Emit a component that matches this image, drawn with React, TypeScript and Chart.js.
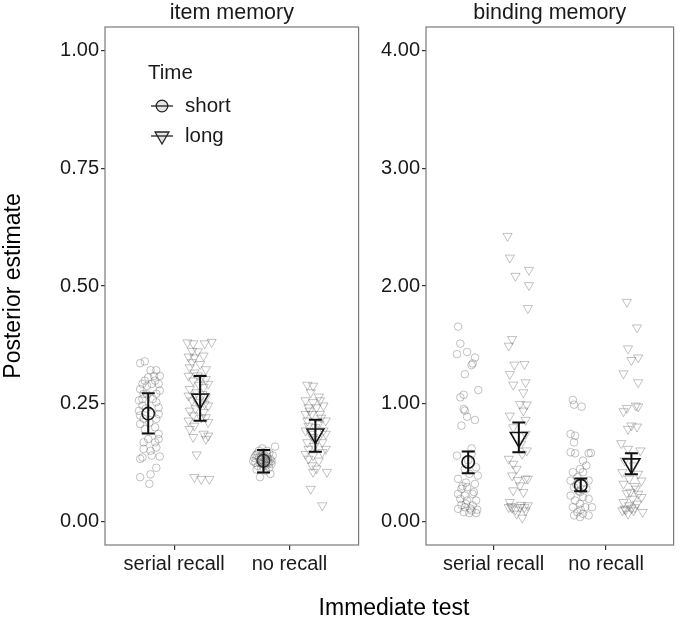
import React, { useEffect, useRef } from 'react';
import { Chart, registerables } from 'chart.js';
Chart.register(...registerables);

const FONT = '"Liberation Sans", Arial, Helvetica, sans-serif';

const categories = ['serial recall', 'no recall'];
const timeLevels = ['short', 'long'];
const itemTicks = [0, 0.25, 0.5, 0.75, 1];
const bindingTicks = [0, 1, 2, 3, 4];

// ---------- item memory: individual estimates ----------
const itemSerialShortY = [0.336,0.340,0.321,0.321,0.309,0.309,0.306,0.299,0.292,0.299,0.292,0.292,0.288,0.281,0.278,0.271,0.271,0.257,0.246,0.253,0.242,0.235,0.225,0.228,0.218,0.218,0.207,0.200,0.196,0.186,0.175,0.175,0.168,0.168,0.157,0.154,0.150,0.136,0.140,0.138,0.133,0.114,0.100,0.094,0.080,0.240,0.230,0.260,0.260,0.210,0.270];
const itemSerialShortDx = [-0.07,-0.03,0.02,0.07,0.10,0.05,0.00,-0.03,-0.05,0.06,0.09,0.03,-0.01,-0.07,0.10,0.07,-0.04,-0.08,-0.05,0.07,0.09,-0.08,-0.07,0.09,-0.04,0.07,-0.07,0.06,-0.03,0.09,0.09,0.00,0.06,-0.04,0.07,-0.04,0.02,-0.05,0.03,0.10,-0.07,0.07,0.02,-0.07,0.01,-0.02,0.03,-0.05,0.04,0.01,-0.01];

const itemSerialLongY = [0.380,0.378,0.378,0.381,0.362,0.361,0.350,0.348,0.352,0.338,0.334,0.327,0.323,0.316,0.309,0.306,0.302,0.299,0.292,0.285,0.281,0.274,0.267,0.264,0.257,0.253,0.246,0.235,0.232,0.225,0.221,0.214,0.211,0.203,0.196,0.186,0.182,0.175,0.179,0.142,0.094,0.090,0.090,0.27,0.29,0.25,0.24,0.22,0.31];
const itemSerialLongDx = [-0.11,-0.06,0.04,0.10,-0.07,-0.02,-0.10,-0.05,0.03,-0.07,0.00,-0.09,0.05,-0.05,-0.10,0.01,0.05,-0.06,0.07,0.03,-0.09,-0.03,-0.10,0.05,-0.07,-0.02,0.07,-0.09,0.03,-0.06,0.05,-0.10,0.07,-0.05,-0.09,0.03,0.07,0.05,-0.06,-0.03,-0.05,0.01,0.08,0.02,-0.01,0.04,-0.04,0.01,-0.02];

const itemNoShortY = [0.135,0.142,0.125,0.118,0.150,0.130,0.140,0.122,0.146,0.132,0.118,0.138,0.126,0.145,0.132,0.122,0.110,0.112,0.108,0.114,0.128,0.140,0.136,0.128,0.150,0.155,0.159,0.094,0.101,0.145,0.133,0.137,0.120,0.140,0.128,0.127,0.124,0.124,0.131,0.143];
const itemNoShortDx = [-0.08,-0.06,-0.07,-0.05,-0.04,-0.03,-0.02,-0.01,0.00,0.01,0.02,0.03,0.04,0.05,0.06,0.07,-0.06,-0.02,0.02,0.05,-0.09,0.08,-0.04,0.00,0.03,-0.01,0.10,-0.03,0.06,-0.05,0.04,-0.01,0.01,-0.07,0.07,0.02,-0.03,0.05,-0.02,0.03];

const itemNoLongY = [0.290,0.288,0.274,0.257,0.253,0.257,0.242,0.242,0.246,0.228,0.228,0.228,0.214,0.214,0.203,0.207,0.193,0.193,0.186,0.179,0.186,0.168,0.168,0.154,0.154,0.143,0.140,0.147,0.133,0.129,0.119,0.112,0.105,0.105,0.069,0.034,0.200,0.175,0.160,0.220,0.235,0.265];
const itemNoLongDx = [-0.07,-0.02,-0.04,-0.085,-0.02,0.04,-0.06,0.01,0.07,-0.085,-0.03,0.04,-0.07,0.09,-0.06,0.03,-0.085,0.07,-0.04,-0.02,0.09,-0.07,0.06,-0.06,0.09,-0.085,-0.02,0.06,-0.06,0.03,-0.03,0.01,-0.02,0.10,-0.04,0.06,0.00,0.02,-0.01,0.05,-0.05,0.03];

// ---------- binding memory: individual estimates ----------
const bindSerialShortY = [1.655,1.511,1.421,1.440,1.392,1.342,1.328,1.251,1.116,1.054,1.076,0.955,0.941,0.890,0.862,0.814,0.559,0.573,0.460,0.446,0.404,0.390,0.362,0.319,0.291,0.277,0.234,0.220,0.234,0.192,0.178,0.178,0.107,0.121,0.093,0.079,0.071,0.071,0.150,0.136,0.52,0.30,0.25,0.11,0.14,0.10,0.62,0.33];
const bindSerialShortDx = [-0.09,-0.07,-0.10,-0.01,0.06,0.04,0.03,-0.03,0.09,-0.07,-0.04,-0.04,-0.03,-0.01,0.06,-0.06,-0.10,0.03,0.07,-0.03,0.01,0.085,-0.09,0.06,-0.01,-0.06,-0.09,-0.03,0.04,-0.07,-0.01,0.07,-0.09,-0.03,0.03,-0.04,0.01,0.07,-0.02,0.04,0.00,-0.05,0.05,0.02,-0.06,0.08,0.03,-0.02];

const bindSerialLongY = [2.424,2.240,2.085,2.136,2.006,1.811,1.548,1.492,1.331,1.336,1.251,1.181,1.161,1.096,0.997,0.992,0.898,0.941,0.862,0.799,0.743,0.531,0.489,0.574,0.446,0.602,0.390,0.362,0.362,0.305,0.263,0.249,0.121,0.116,0.121,0.136,0.065,0.031,0.093,0.164,0.13,0.12,0.10,0.14,0.35,0.66];
const bindSerialLongDx = [-0.10,-0.08,-0.03,0.09,0.09,0.08,-0.06,-0.09,-0.04,0.05,-0.08,0.06,-0.05,0.04,0.01,0.07,-0.08,0.04,0.06,-0.05,0.06,-0.09,-0.05,0.03,-0.02,0.07,-0.06,0.06,0.08,0.01,-0.05,0.04,-0.09,-0.06,0.01,0.08,-0.02,0.03,0.06,-0.08,-0.07,0.05,-0.03,0.02,-0.01,0.02];

const bindNoShortY = [1.032,0.992,0.975,0.743,0.729,0.672,0.588,0.579,0.579,0.582,0.517,0.475,0.446,0.418,0.418,0.376,0.347,0.347,0.291,0.277,0.249,0.220,0.206,0.178,0.192,0.150,0.121,0.121,0.121,0.079,0.065,0.051,0.051,0.037,0.31,0.33,0.10,0.26];
const bindNoShortDx = [-0.07,-0.06,0.008,-0.09,-0.05,-0.06,-0.09,-0.05,0.07,0.09,0.02,0.05,-0.006,-0.07,0.02,-0.03,-0.09,0.07,-0.06,0.05,-0.006,-0.09,0.02,-0.05,0.07,-0.006,-0.07,0.04,0.10,-0.03,0.02,-0.06,0.07,-0.006,-0.04,0.03,0.00,-0.02];

const bindNoLongY = [1.864,1.647,1.469,1.392,1.370,1.257,1.181,0.935,0.963,0.983,0.975,0.814,0.785,0.805,0.664,0.616,0.602,0.517,0.475,0.418,0.404,0.362,0.347,0.319,0.277,0.240,0.234,0.192,0.206,0.164,0.136,0.150,0.107,0.093,0.079,0.065,0.093,0.10,0.11,0.12,0.25,0.30];
const bindNoLongDx = [-0.04,0.05,-0.03,0.06,0.00,-0.07,0.06,-0.07,-0.04,0.04,0.06,0.00,-0.03,0.05,-0.09,-0.03,0.08,-0.06,0.02,-0.08,0.06,-0.02,0.09,-0.07,0.04,-0.04,0.06,0.01,0.09,-0.07,-0.02,0.05,-0.06,0.02,0.10,-0.03,-0.08,-0.05,0.00,0.03,-0.01,0.03];

// ---------- posterior means with intervals (index = category) ----------
const itemShortMean = [0.229, 0.129];
const itemShortLo = [0.187, 0.104];
const itemShortHi = [0.272, 0.152];
const itemLongMean = [0.260, 0.186];
const itemLongLo = [0.214, 0.148];
const itemLongHi = [0.309, 0.216];

const bindShortMean = [0.505, 0.305];
const bindShortLo = [0.410, 0.257];
const bindShortHi = [0.595, 0.364];
const bindLongMean = [0.714, 0.490];
const bindLongLo = [0.587, 0.400];
const bindLongHi = [0.840, 0.580];

const DODGE = 0.225;
const offsets = [-DODGE, DODGE];

function jitterData(cat: number, time: number, ys: number[], dxs: number[]) {
  return ys.map((v, i) => ({ x: cat + offsets[time] + (dxs[i] ?? 0), y: v }));
}
function meanData(time: number, means: number[]) {
  return means.map((v, i) => ({ x: i + offsets[time], y: v }));
}

const jitterCircle = {
  pointStyle: 'circle', pointRadius: 3.8, pointBorderWidth: 1,
  pointBorderColor: 'rgba(95,95,95,0.38)', pointBackgroundColor: 'rgba(0,0,0,0)', pointRotation: 0,
};
const jitterTri = {
  pointStyle: 'triangle', pointRadius: 5.3, pointBorderWidth: 1,
  pointBorderColor: 'rgba(95,95,95,0.38)', pointBackgroundColor: 'rgba(0,0,0,0)', pointRotation: 180,
};

interface PanelSpec {
  title: string;
  yMin: number; yMax: number; yTicks: number[];
  jitter: { cat: number; time: number; y: number[]; dx: number[] }[];
  means: { time: number; m: number[]; lo: number[]; hi: number[] }[];
  yWidth: number; padRight: number; showYTitle: boolean; showLegend: boolean;
}

function makeConfig(spec: PanelSpec): any {
  const datasets: any[] = [];
  spec.jitter.forEach((g) => {
    datasets.push({
      label: timeLevels[g.time],
      data: jitterData(g.cat, g.time, g.y, g.dx),
      showLine: false,
      ...(g.time === 0 ? jitterCircle : jitterTri),
    });
  });
  spec.means.forEach((g) => {
    datasets.push({
      label: timeLevels[g.time] + ' mean',
      data: meanData(g.time, g.m),
      showLine: false,
      pointStyle: g.time === 0 ? 'circle' : 'triangle',
      pointRotation: g.time === 0 ? 0 : 180,
      pointRadius: g.time === 0 ? 6.2 : 9.8,
      pointBorderWidth: 1.6,
      pointBorderColor: '#111',
      pointBackgroundColor: 'rgba(0,0,0,0)',
    });
  });

  const decor = {
    id: 'decor',
    afterDatasetsDraw(chart: any) {
      const { ctx, chartArea: a, scales } = chart;
      const x = scales.x, y = scales.y;
      ctx.save();
      ctx.strokeStyle = '#111';
      ctx.lineWidth = 2;
      const cap = 6.5;
      spec.means.forEach((g) => {
        g.lo.forEach((lo, i) => {
          const px = x.getPixelForValue(i + offsets[g.time]);
          const yl = y.getPixelForValue(lo);
          const yh = y.getPixelForValue(g.hi[i]);
          ctx.beginPath();
          ctx.moveTo(px, yl); ctx.lineTo(px, yh);
          ctx.moveTo(px - cap, yl); ctx.lineTo(px + cap, yl);
          ctx.moveTo(px - cap, yh); ctx.lineTo(px + cap, yh);
          ctx.stroke();
        });
      });
      // panel frame
      ctx.strokeStyle = '#7a7a7a';
      ctx.lineWidth = 1.2;
      ctx.strokeRect(a.left, a.top, a.right - a.left, a.bottom - a.top);
      // strip title
      ctx.fillStyle = '#1a1a1a';
      ctx.font = `21.5px ${FONT}`;
      ctx.textAlign = 'center';
      ctx.textBaseline = 'middle';
      ctx.fillText(spec.title, (a.left + a.right) / 2, 13);
      // legend
      if (spec.showLegend) {
        const lx = a.left + 43;
        ctx.textAlign = 'left';
        ctx.font = `20.5px ${FONT}`;
        ctx.fillText('Time', lx, a.top + 46);
        const sx = a.left + 57;
        const rows = [a.top + 79, a.top + 109];
        rows.forEach((ry, k) => {
          ctx.strokeStyle = '#222';
          ctx.lineWidth = 1.3;
          ctx.beginPath();
          ctx.moveTo(sx - 11, ry); ctx.lineTo(sx + 11, ry);
          ctx.stroke();
          ctx.beginPath();
          if (k === 0) {
            ctx.arc(sx, ry, 5.8, 0, Math.PI * 2);
          } else {
            const r = 8;
            ctx.moveTo(sx, ry + r);
            ctx.lineTo(sx - r * 0.866, ry - r * 0.5);
            ctx.lineTo(sx + r * 0.866, ry - r * 0.5);
            ctx.closePath();
          }
          ctx.fillStyle = 'rgba(0,0,0,0.1)';
          ctx.fill();
          ctx.stroke();
          ctx.fillStyle = '#1a1a1a';
          ctx.fillText(timeLevels[k], a.left + 80, ry);
        });
      }
      ctx.restore();
    },
  };

  return {
    type: 'scatter',
    data: { datasets },
    plugins: [decor],
    options: {
      responsive: false,
      animation: false,
      events: [],
      layout: { padding: { top: 27, right: spec.padRight, left: 0, bottom: 0 } },
      plugins: { legend: { display: false }, tooltip: { enabled: false }, title: { display: false } },
      scales: {
        x: {
          type: 'linear',
          min: -0.6,
          max: 1.6,
          afterBuildTicks: (s: any) => { s.ticks = categories.map((_, i) => ({ value: i })); },
          afterFit: (s: any) => { s.height = 78; },
          ticks: {
            callback: (v: any) => categories[Math.round(Number(v))] ?? '',
            font: { family: FONT, size: 20 },
            color: '#1a1a1a',
            padding: 2,
            maxRotation: 0,
            autoSkip: false,
          },
          grid: { display: true, drawOnChartArea: false, drawTicks: true, tickLength: 5, color: '#333', lineWidth: 1.2 },
          border: { display: false },
        },
        y: {
          type: 'linear',
          min: spec.yMin,
          max: spec.yMax,
          afterBuildTicks: (s: any) => { s.ticks = spec.yTicks.map((v) => ({ value: v })); },
          afterFit: (s: any) => { s.width = spec.yWidth; },
          ticks: {
            callback: (v: any) => Number(v).toFixed(2),
            font: { family: FONT, size: 20 },
            color: '#1a1a1a',
            padding: 2,
          },
          grid: { display: true, drawOnChartArea: false, drawTicks: true, tickLength: 4, color: '#333', lineWidth: 1.2 },
          border: { display: false },
          title: {
            display: spec.showYTitle,
            text: 'Posterior estimate',
            font: { family: FONT, size: 23 },
            color: '#000',
            padding: { top: 0, bottom: 0 },
          },
        },
      },
    },
  };
}

const itemSpec: PanelSpec = {
  title: 'item memory',
  yMin: -0.05, yMax: 1.05, yTicks: itemTicks,
  jitter: [
    { cat: 0, time: 0, y: itemSerialShortY, dx: itemSerialShortDx },
    { cat: 0, time: 1, y: itemSerialLongY, dx: itemSerialLongDx },
    { cat: 1, time: 0, y: itemNoShortY, dx: itemNoShortDx },
    { cat: 1, time: 1, y: itemNoLongY, dx: itemNoLongDx },
  ],
  means: [
    { time: 0, m: itemShortMean, lo: itemShortLo, hi: itemShortHi },
    { time: 1, m: itemLongMean, lo: itemLongLo, hi: itemLongHi },
  ],
  yWidth: 105, padRight: 8, showYTitle: true, showLegend: true,
};

const bindSpec: PanelSpec = {
  title: 'binding memory',
  yMin: -0.2, yMax: 4.2, yTicks: bindingTicks,
  jitter: [
    { cat: 0, time: 0, y: bindSerialShortY, dx: bindSerialShortDx },
    { cat: 0, time: 1, y: bindSerialLongY, dx: bindSerialLongDx },
    { cat: 1, time: 0, y: bindNoShortY, dx: bindNoShortDx },
    { cat: 1, time: 1, y: bindNoLongY, dx: bindNoLongDx },
  ],
  means: [
    { time: 0, m: bindShortMean, lo: bindShortLo, hi: bindShortHi },
    { time: 1, m: bindLongMean, lo: bindLongLo, hi: bindLongHi },
  ],
  yWidth: 56, padRight: 2, showYTitle: false, showLegend: false,
};

function Panel({ spec, left, width }: { spec: PanelSpec; left: number; width: number }) {
  const ref = useRef<HTMLCanvasElement | null>(null);
  useEffect(() => {
    if (!ref.current) return;
    const chart = new Chart(ref.current, makeConfig(spec));
    return () => chart.destroy();
  }, [spec]);
  return (
    <canvas
      ref={ref}
      width={width}
      height={623}
      style={{ position: 'absolute', left, top: 0, width, height: 623, display: 'block' }}
    />
  );
}

export default function App() {
  return (
    <div style={{ position: 'absolute', left: 0, top: 0, width: 685, height: 623, background: '#fff', overflow: 'hidden' }}>
      <Panel spec={itemSpec} left={0} width={370} />
      <Panel spec={bindSpec} left={370} width={315} />
      <div
        style={{
          position: 'absolute', left: 105, width: 578, top: 593, height: 28,
          textAlign: 'center', fontFamily: FONT, fontSize: 23, lineHeight: '28px', color: '#000',
        }}
      >
        Immediate test
      </div>
    </div>
  );
}
